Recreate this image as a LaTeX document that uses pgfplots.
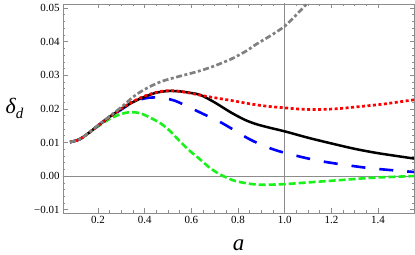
\documentclass[border=0pt]{standalone}
\usepackage{fontspec}
\setmainfont{Liberation Serif}
\usepackage{pgfplots}
\pgfplotsset{compat=1.18}
\definecolor{mgreen}{rgb}{0.1,0.95,0.1}
\definecolor{fgray}{rgb}{0.55,0.55,0.55}
\definecolor{cgray}{rgb}{0.5,0.5,0.5}
\begin{document}
\begin{tikzpicture}
\useasboundingbox (0,0) rectangle (415bp,255bp);
\begin{axis}[
  at={(63bp,42bp)}, anchor=south west,
  scale only axis, width=351bp, height=209bp,
  xmin=0.05, xmax=1.554, ymin=-0.0110, ymax=0.0512,
  axis line style={fgray, line width=0.6bp},
  tick style={fgray, line width=0.5bp},
  tick align=inside,
  major tick length=4.5bp, minor tick length=2.5bp,
  xtick={0.2,0.4,0.6,0.8,1.0,1.2,1.4},
  xticklabels={0.2,0.4,0.6,0.8,1.0,1.2,1.4},
  ytick={-0.01,0,0.01,0.02,0.03,0.04,0.05},
  yticklabels={−0.01,0.00,0.01,0.02,0.03,0.04,0.05},
  minor x tick num=3, minor y tick num=4,
  ticklabel style={font=\fontsize{11}{12}\selectfont, text=black},
  scaled y ticks=false,
  xlabel={\textit{a}},
  ylabel={\textit{δ}\raisebox{-0.25em}{\fontsize{15}{15}\selectfont\textit{d}}},
  every axis x label/.style={at={(rel axis cs:0.5,0)}, anchor=center, yshift=-32bp, font=\fontsize{23}{24}\selectfont},
  every axis y label/.style={at={(rel axis cs:0,0.5)}, anchor=west, xshift=-61bp, font=\fontsize{22}{24}\selectfont},
  clip=true,
]
\addplot[fgray, line width=0.5bp] coordinates {(0,0) (2,0)};
\addplot[fgray, line width=0.5bp] coordinates {(1,-0.02) (1,0.06)};
% green
\addplot[mgreen, line width=2.6bp, smooth, dash pattern=on 7bp off 3bp] coordinates {
(0.08,0.0101)(0.12,0.0109)(0.16,0.0128)(0.2,0.0148)(0.25,0.0170)(0.3,0.0185)(0.34,0.0190)(0.38,0.0187)(0.42,0.0175)(0.47,0.0156)(0.51,0.0133)(0.55,0.0104)(0.59,0.0077)(0.64,0.0048)(0.68,0.0024)(0.725,0.0004)(0.78,-0.0013)(0.84,-0.0022)(0.9,-0.0026)(1.0,-0.0024)(1.1,-0.0019)(1.24,-0.0012)(1.38,-0.0005)(1.555,0.0000)};
% blue
\addplot[blue, line width=2.6bp, smooth, dash pattern=on 14bp off 14bp] coordinates {
(0.08,0.0101)(0.12,0.0109)(0.16,0.0128)(0.2,0.0150)(0.25,0.0176)(0.3,0.0198)(0.35,0.0220)(0.4,0.0231)(0.44,0.0234)(0.48,0.0232)(0.53,0.0224)(0.59,0.0205)(0.65,0.0185)(0.72,0.0162)(0.78,0.0138)(0.84,0.0113)(0.9,0.0093)(0.97,0.0075)(1.07,0.0057)(1.15,0.0045)(1.23,0.0036)(1.37,0.0023)(1.555,0.0012)};
% black
\addplot[black, line width=2.5bp, smooth] coordinates {
(0.08,0.0101)(0.12,0.0109)(0.16,0.0128)(0.2,0.0150)(0.25,0.0176)(0.3,0.0200)(0.35,0.0220)(0.4,0.0236)(0.45,0.0248)(0.5,0.0253)(0.55,0.0252)(0.6,0.0247)(0.64,0.0241)(0.7,0.0219)(0.77,0.0189)(0.83,0.0167)(0.88,0.0154)(0.94,0.0143)(1.0,0.0133)(1.1,0.0114)(1.2,0.0097)(1.3,0.0081)(1.4,0.0068)(1.555,0.0052)};
% red
\addplot[red, line width=2.7bp, smooth, dash pattern=on 3bp off 2.5bp] coordinates {
(0.08,0.0101)(0.12,0.0109)(0.16,0.0128)(0.2,0.0150)(0.25,0.0176)(0.3,0.0201)(0.35,0.0222)(0.4,0.0238)(0.45,0.0249)(0.5,0.0254)(0.55,0.0252)(0.6,0.0246)(0.65,0.0239)(0.7,0.0233)(0.77,0.0225)(0.85,0.0215)(0.92,0.0208)(1.0,0.0203)(1.07,0.0199)(1.14,0.0198)(1.22,0.0200)(1.31,0.0206)(1.42,0.0214)(1.555,0.0227)};
% gray
\addplot[cgray, line width=2.7bp, smooth, dash pattern=on 6bp off 2.5bp on 3bp off 2.5bp] coordinates {
(0.08,0.0101)(0.12,0.0109)(0.16,0.0128)(0.2,0.0151)(0.25,0.0178)(0.3,0.0205)(0.35,0.0235)(0.4,0.0258)(0.47,0.0281)(0.55,0.0297)(0.6,0.0306)(0.65,0.0316)(0.7,0.0328)(0.77,0.0348)(0.83,0.0370)(0.88,0.0393)(0.94,0.0418)(1.0,0.0446)(1.05,0.0480)(1.1,0.0517)(1.15,0.0560)};
\end{axis}
\end{tikzpicture}
\end{document}
